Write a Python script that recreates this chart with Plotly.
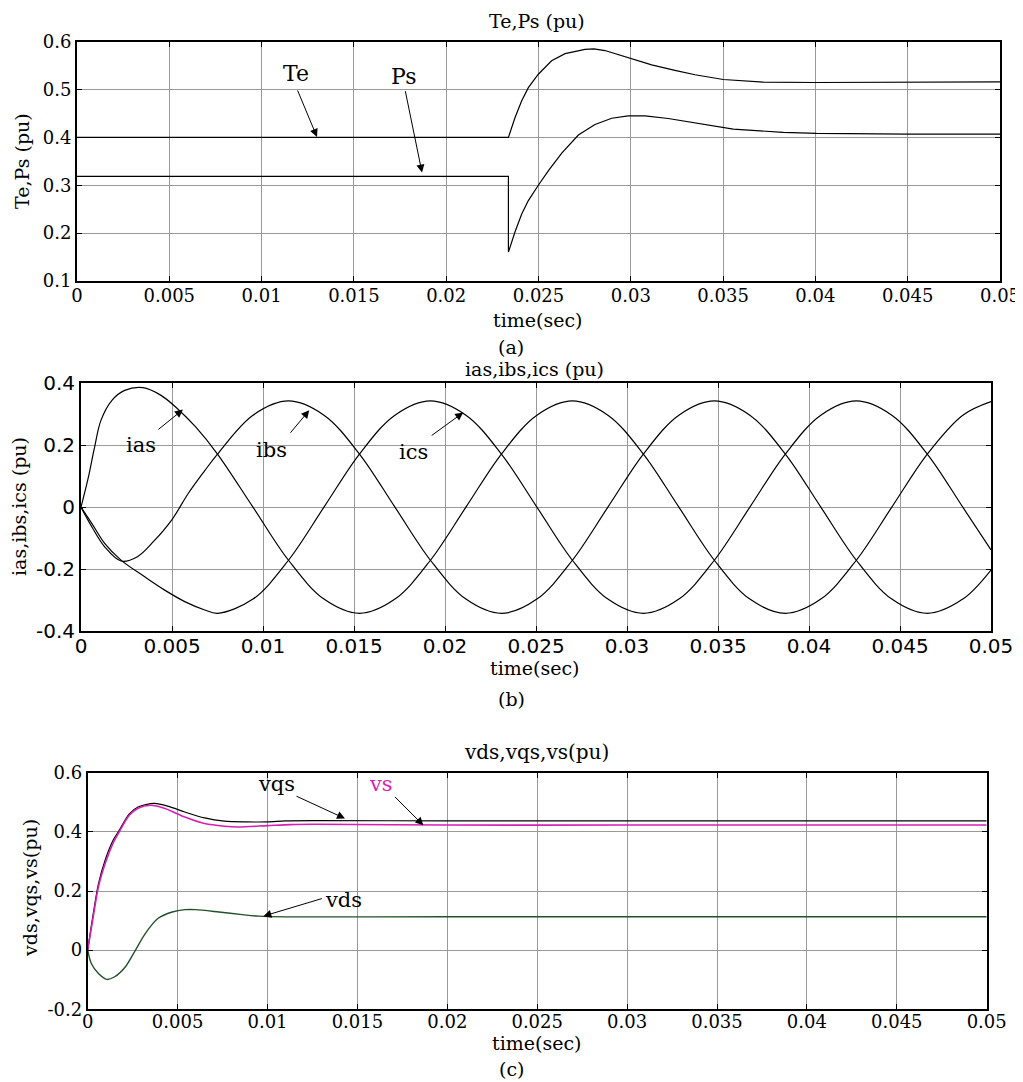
import plotly.graph_objects as go

# page is 1023x1082; the browser adds an 8px body margin, so the figure is drawn 8px in
OFF = 8
W, H = 1023 - OFF, 1082 - OFF

# ---------------- data (a) ----------------
t_te = [0, 0.02337, 0.02373, 0.02409, 0.02445, 0.02499, 0.02571, 0.02644, 0.02752, 0.0280,
        0.0286, 0.02986, 0.03113, 0.03239, 0.03348, 0.03501, 0.03718, 0.0400, 0.0450, 0.05]
te = [0.4, 0.4, 0.4417, 0.4765, 0.504, 0.532, 0.560, 0.575, 0.584, 0.585,
      0.5815, 0.5667, 0.5515, 0.540, 0.531, 0.521, 0.5155, 0.5148, 0.515, 0.516]

t_ps = [0, 0.02337, 0.02337, 0.02373, 0.02409, 0.02445, 0.02499, 0.02553, 0.02626, 0.02716,
        0.02806, 0.02897, 0.02986, 0.03077, 0.03203, 0.03348, 0.03555, 0.03826, 0.04007, 0.045, 0.05]
ps = [0.3188, 0.3188, 0.1604, 0.203, 0.240, 0.268, 0.300, 0.330, 0.367, 0.405,
      0.427, 0.440, 0.445, 0.445, 0.4396, 0.431, 0.4175, 0.4104, 0.4083, 0.407, 0.407]

# ---------------- data (b) ----------------
t_ias = [0, 0.0004, 0.00075, 0.0011, 0.0017, 0.0024, 0.0034, 0.0044, 0.0053, 0.0063,
         0.0075, 0.00945, 0.0114, 0.01335, 0.0153, 0.01725, 0.0192, 0.02115, 0.0231, 0.02505,
         0.0270, 0.02895, 0.0309, 0.03285, 0.0348, 0.03675, 0.0387, 0.04065, 0.0426, 0.04455,
         0.0465, 0.04845, 0.05]
ias = [0, 0.095, 0.195, 0.281, 0.345, 0.377, 0.386, 0.361, 0.318, 0.259,
       0.1715, 0.0, -0.1715, -0.297, -0.343, -0.297, -0.1715, 0.0, 0.1715, 0.297,
       0.343, 0.297, 0.1715, 0.0, -0.1715, -0.297, -0.343, -0.297, -0.1715, 0.0,
       0.1715, 0.297, 0.341]

t_ibs = [0, 0.0006, 0.0013, 0.0022, 0.0031, 0.0040, 0.0050, 0.0059, 0.0068,
         0.0075, 0.00945, 0.0114, 0.01335, 0.0153, 0.01725, 0.0192, 0.02115, 0.0231, 0.02505,
         0.0270, 0.02895, 0.0309, 0.03285, 0.0348, 0.03675, 0.0387, 0.04065, 0.0426, 0.04455,
         0.0465, 0.04845, 0.05]
ibs = [0, -0.064, -0.128, -0.174, -0.160, -0.110, -0.040, 0.045, 0.118,
       0.1715, 0.297, 0.343, 0.297, 0.1715, 0.0, -0.1715, -0.297, -0.343, -0.297,
       -0.1715, 0.0, 0.1715, 0.297, 0.343, 0.297, 0.1715, 0.0, -0.1715, -0.297,
       -0.343, -0.297, -0.203]

t_ics = [0, 0.0006, 0.0013, 0.0022, 0.0035, 0.0046, 0.0057, 0.0068,
         0.0075, 0.00945, 0.0114, 0.01335, 0.0153, 0.01725, 0.0192, 0.02115, 0.0231, 0.02505,
         0.0270, 0.02895, 0.0309, 0.03285, 0.0348, 0.03675, 0.0387, 0.04065, 0.0426, 0.04455,
         0.0465, 0.04845, 0.05]
ics = [0, -0.053, -0.117, -0.171, -0.225, -0.268, -0.305, -0.332,
       -0.343, -0.297, -0.1715, 0.0, 0.1715, 0.297, 0.343, 0.297, 0.1715, 0.0,
       -0.1715, -0.297, -0.343, -0.297, -0.1715, 0.0, 0.1715, 0.297, 0.343, 0.297,
       0.1715, 0.0, -0.138]

# ---------------- data (c) ----------------
t_vqs = [0, 0.0003, 0.0006, 0.001, 0.0014, 0.0018, 0.0023, 0.0028, 0.0037, 0.0045,
         0.0054, 0.0065, 0.0076, 0.0088, 0.0100, 0.0110, 0.0126, 0.02, 0.03, 0.04, 0.05]
vqs = [0, 0.12, 0.225, 0.31, 0.37, 0.41, 0.46, 0.484, 0.496, 0.486,
       0.467, 0.447, 0.436, 0.4336, 0.4336, 0.437, 0.438, 0.437, 0.437, 0.437, 0.437]

t_vs = [0, 0.0003, 0.0006, 0.001, 0.0014, 0.0018, 0.0023, 0.0028, 0.0035, 0.0043,
        0.0054, 0.0065, 0.0076, 0.0084, 0.0100, 0.0113, 0.0126, 0.02, 0.03, 0.04, 0.05]
vs = [0, 0.11, 0.215, 0.298, 0.36, 0.405, 0.455, 0.480, 0.490, 0.479,
      0.450, 0.428, 0.419, 0.4166, 0.421, 0.4245, 0.4255, 0.423, 0.423, 0.423, 0.423]

t_vds = [0, 0.0002, 0.0006, 0.00106, 0.0015, 0.0021, 0.0026, 0.0032, 0.0039, 0.0047,
         0.0054, 0.006, 0.0073, 0.0086, 0.0095, 0.011, 0.02, 0.03, 0.04, 0.05]
vds = [0, -0.045, -0.079, -0.099, -0.09, -0.056, -0.006, 0.056, 0.107, 0.129,
       0.137, 0.137, 0.129, 0.12, 0.115, 0.1126, 0.113, 0.113, 0.113, 0.113]

# ---------------- ticks ----------------
x_ticks = [0, 0.005, 0.01, 0.015, 0.02, 0.025, 0.03, 0.035, 0.04, 0.045, 0.05]
x_tick_text = ["0", "0.005", "0.01", "0.015", "0.02", "0.025", "0.03", "0.035", "0.04", "0.045", "0.05"]
ya_ticks = [0.1, 0.2, 0.3, 0.4, 0.5, 0.6]
ya_text = ["0.1", "0.2", "0.3", "0.4", "0.5", "0.6"]
yb_ticks = [-0.4, -0.2, 0, 0.2, 0.4]
yb_text = ["-0.4", "-0.2", "0", "0.2", "0.4"]
yc_ticks = [-0.2, 0, 0.2, 0.4, 0.6]
yc_text = ["-0.2", "0", "0.2", "0.4", "0.6"]

SERIF = "DejaVu Serif"
SANS = "DejaVu Sans"
MAGENTA = "#d81fb4"
GREEN = "#23502a"

fig = go.Figure()
lw = 1.2
fig.add_trace(go.Scatter(x=t_te, y=te, mode="lines", line=dict(color="black", width=lw), xaxis="x", yaxis="y"))
fig.add_trace(go.Scatter(x=t_ps, y=ps, mode="lines", line=dict(color="black", width=lw), xaxis="x", yaxis="y"))
for tt, vv in [(t_ias, ias), (t_ibs, ibs), (t_ics, ics)]:
    fig.add_trace(go.Scatter(x=tt, y=vv, mode="lines", line=dict(color="black", width=lw, shape="spline", smoothing=1.0),
                             xaxis="x2", yaxis="y2"))
fig.add_trace(go.Scatter(x=t_vqs, y=vqs, mode="lines", line=dict(color="black", width=lw, shape="spline", smoothing=0.8),
                         xaxis="x3", yaxis="y3"))
fig.add_trace(go.Scatter(x=t_vs, y=vs, mode="lines", line=dict(color=MAGENTA, width=1.6, shape="spline", smoothing=0.8),
                         xaxis="x3", yaxis="y3"))
fig.add_trace(go.Scatter(x=t_vds, y=vds, mode="lines", line=dict(color=GREEN, width=1.4, shape="spline", smoothing=0.8),
                         xaxis="x3", yaxis="y3"))


def dx(l, r):
    return [(l - OFF) / W, (r - OFF) / W]


def dy(t, b):
    return [1 - (b - OFF) / H, 1 - (t - OFF) / H]


def xax(dom, anchor, font, standoff):
    return dict(domain=dom, anchor=anchor, range=[0, 0.05], tickvals=x_ticks, ticktext=x_tick_text,
                showgrid=True, gridcolor="#9a9a9a", gridwidth=1, zeroline=False,
                showline=True, linecolor="black", linewidth=1.8, mirror="ticks",
                ticks="inside", ticklen=5, tickcolor="black", tickwidth=1,
                ticklabelstandoff=standoff,
                tickfont=font, automargin=False, fixedrange=True)


def yax(dom, anchor, rng, vals, text, font):
    return dict(domain=dom, anchor=anchor, range=rng, tickvals=vals, ticktext=text,
                showgrid=True, gridcolor="#9a9a9a", gridwidth=1, zeroline=False,
                showline=True, linecolor="black", linewidth=1.8, mirror="ticks",
                ticks="inside", ticklen=5, tickcolor="black", tickwidth=1,
                tickfont=font, automargin=False, fixedrange=True)


serif_tick = dict(family=SERIF, size=18, color="black")
sans_tick = dict(family=SANS, size=20, color="black")

layout = dict(
    width=W, height=H, margin=dict(l=0, r=0, t=0, b=0),
    paper_bgcolor="white", plot_bgcolor="white", showlegend=False,
    xaxis=xax(dx(77, 1000), "y", serif_tick, -3),
    yaxis=yax(dy(41.7, 281), "x", [0.1, 0.6], ya_ticks, ya_text, serif_tick),
    xaxis2=xax(dx(81, 991), "y2", sans_tick, -4),
    yaxis2=yax(dy(383.3, 631), "x2", [-0.4, 0.4], yb_ticks, yb_text, sans_tick),
    xaxis3=xax(dx(87.7, 986.7), "y3", serif_tick, -5),
    yaxis3=yax(dy(772.7, 1009.3), "x3", [-0.2, 0.6], yc_ticks, yc_text, serif_tick),
)

ann = []


def ptext(txt, px, py, size, angle=0, color="black"):
    ann.append(dict(text=txt, x=(px - OFF) / W, y=1 - (py - OFF) / H, xref="paper", yref="paper",
                    xanchor="center", yanchor="middle", showarrow=False, textangle=angle,
                    font=dict(family=SERIF, size=size, color=color)))


# titles
ptext("Te,Ps (pu)", 537, 21, 19)
ptext("ias,ibs,ics (pu)", 534, 369, 19)
ptext("vds,vqs,vs(pu)", 536, 752, 20)
# x labels
ptext("time(sec)", 537, 320, 19)
ptext("time(sec)", 534, 668, 19)
ptext("time(sec)", 536, 1043, 19)
# panel captions
ptext("(a)", 511, 347, 19)
ptext("(b)", 511, 699, 19)
ptext("(c)", 511, 1069, 19)
# y labels
ptext("Te,Ps (pu)", 22, 161, 19, -90)
ptext("ias,ibs,ics (pu)", 19, 507, 19, -90)
ptext("vds,vqs,vs(pu)", 30, 888, 19, -90)


def dtext(txt, x, y, xr, yr, size=21, color="black"):
    ann.append(dict(text=txt, x=x, y=y, xref=xr, yref=yr, xanchor="center", yanchor="middle",
                    showarrow=False, font=dict(family=SERIF, size=size, color=color)))


def arrow(x, y, ax, ay, xr, yr):
    ann.append(dict(text="", x=x, y=y, ax=ax, ay=ay, xref=xr, yref=yr, showarrow=True,
                    arrowhead=2, arrowsize=1.6, arrowwidth=1, arrowcolor="black", standoff=0))


# (a) labels
dtext("Te", 0.01186, 0.533, "x", "y", 22)
arrow(0.0130, 0.401, -20, -48, "x", "y")
dtext("Ps", 0.01771, 0.5265, "x", "y", 22)
arrow(0.01869, 0.3265, -17, -83, "x", "y")
# (b) labels
dtext("ias", 0.00331, 0.20, "x2", "y2")
arrow(0.0056, 0.315, -26, 21, "x2", "y2")
dtext("ibs", 0.01048, 0.184, "x2", "y2")
arrow(0.01254, 0.313, -20, 24, "x2", "y2")
dtext("ics", 0.01826, 0.178, "x2", "y2")
arrow(0.0210, 0.3055, -33, 24, "x2", "y2")
# (c) labels
dtext("vqs", 0.01051, 0.561, "x3", "y3")
arrow(0.01431, 0.445, -50, -23, "x3", "y3")
dtext("vs", 0.01631, 0.561, "x3", "y3", 21, MAGENTA)
arrow(0.01867, 0.422, -30, -30, "x3", "y3")
dtext("vds", 0.01422, 0.169, "x3", "y3")
arrow(0.00977, 0.115, 60, -18, "x3", "y3")

layout["annotations"] = ann
fig.update_layout(**layout)
fig.write_html("out.html")
